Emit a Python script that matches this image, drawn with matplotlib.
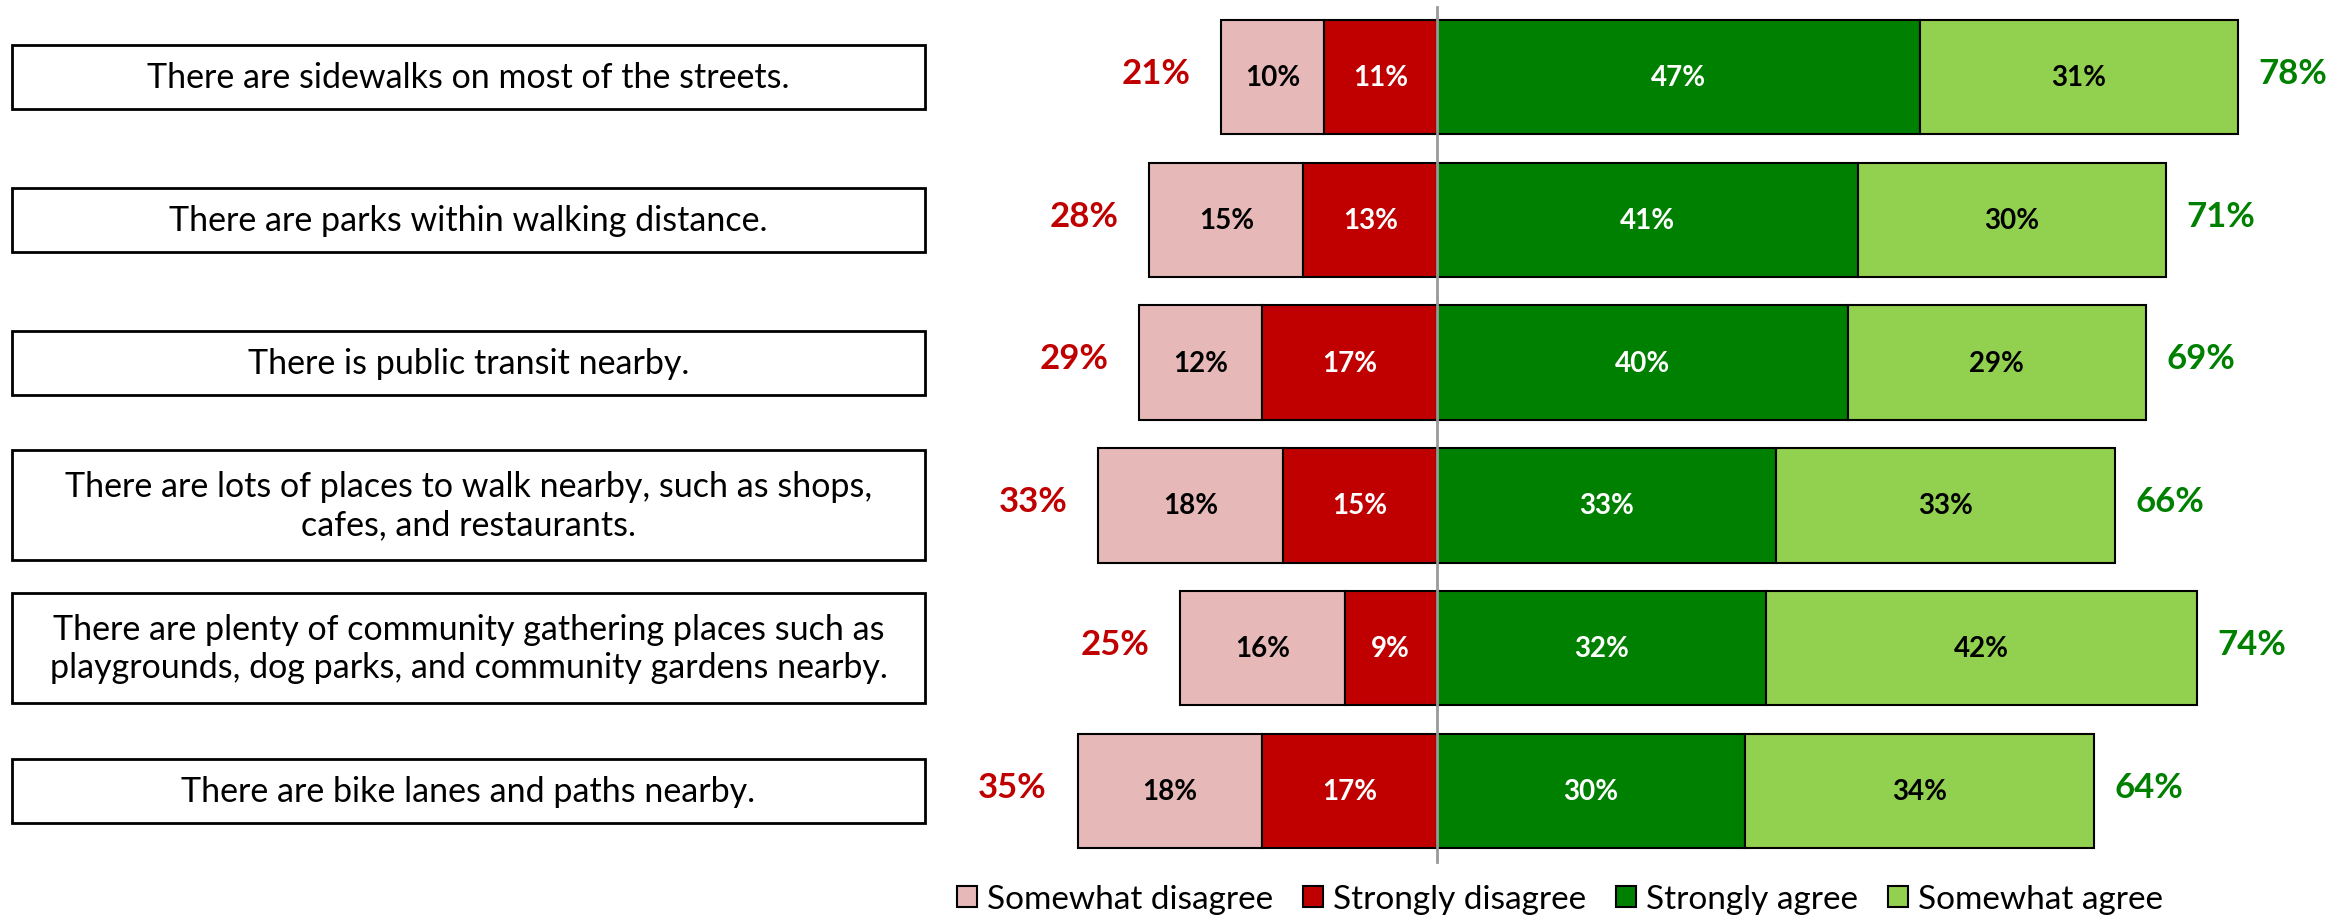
import matplotlib
matplotlib.use("Agg")
import matplotlib.pyplot as plt
from matplotlib.patches import Rectangle
from matplotlib.transforms import blended_transform_factory

plt.rcParams['font.family'] = ['Lato', 'DejaVu Sans']

# data
statements = [
    "There are sidewalks on most of the streets.",
    "There are parks within walking distance.",
    "There is public transit nearby.",
    "There are lots of places to walk nearby, such as shops,\ncafes, and restaurants.",
    "There are plenty of community gathering places such as\nplaygrounds, dog parks, and community gardens nearby.",
    "There are bike lanes and paths nearby.",
]
somewhat_disagree = [10, 15, 12, 18, 16, 18]
strongly_disagree = [11, 13, 17, 15, 9, 17]
strongly_agree = [47, 41, 40, 33, 32, 30]
somewhat_agree = [31, 30, 29, 33, 42, 34]
total_disagree = [21, 28, 29, 33, 25, 35]
total_agree = [78, 71, 69, 66, 74, 64]
series_names = ["Somewhat disagree", "Strongly disagree", "Strongly agree", "Somewhat agree"]

# colours
c_swd = "#E6B9B8"
c_sd = "#C00000"
c_sa = "#008000"
c_swa = "#92D050"

W, H = 2351, 920
fig = plt.figure(figsize=(W / 100, H / 100), dpi=100)
ax = fig.add_axes([0, 0, 1, 1])

# pixel layout -> data limits
x0_px = 1437.0      # zero line
px_per_pct = 10.27
y0_px = 78.0        # centre of first bar
px_per_row = 142.8
ax.set_xlim(-x0_px / px_per_pct, (W - x0_px) / px_per_pct)
ax.set_ylim((H - y0_px) / px_per_row, -y0_px / px_per_row)
ax.axis("off")

ys = list(range(len(statements)))
bh = 0.8
edge = dict(edgecolor="black", linewidth=1.5)

left_sd = [-v for v in strongly_disagree]
left_swd = [-(a + b) for a, b in zip(strongly_disagree, somewhat_disagree)]
b_swd = ax.barh(ys, somewhat_disagree, left=left_swd, height=bh, color=c_swd, **edge)
b_sd = ax.barh(ys, strongly_disagree, left=left_sd, height=bh, color=c_sd, **edge)
b_sa = ax.barh(ys, strongly_agree, left=0, height=bh, color=c_sa, **edge)
b_swa = ax.barh(ys, somewhat_agree, left=strongly_agree, height=bh, color=c_swa, **edge)

# centre line
ax.plot([0, 0], [-0.49, 5.5], color="#999999", lw=2, zorder=5)

lbl = dict(ha="center", va="center", fontsize=20, fontweight="bold")
for i, y in enumerate(ys):
    ax.text(left_swd[i] + somewhat_disagree[i] / 2, y, f"{somewhat_disagree[i]}%", color="black", **lbl)
    ax.text(left_sd[i] + strongly_disagree[i] / 2, y, f"{strongly_disagree[i]}%", color="white", **lbl)
    ax.text(strongly_agree[i] / 2, y, f"{strongly_agree[i]}%", color="white", **lbl)
    ax.text(strongly_agree[i] + somewhat_agree[i] / 2, y, f"{somewhat_agree[i]}%", color="black", **lbl)
    # totals
    ax.text(-total_disagree[i] - 3, y - 0.03, f"{total_disagree[i]}%", color=c_sd,
            ha="right", va="center", fontsize=25, fontweight="bold")
    ax.text(total_agree[i] + 2, y - 0.03, f"{total_agree[i]}%", color=c_sa,
            ha="left", va="center", fontsize=25, fontweight="bold")

# statement boxes on the left
tr = blended_transform_factory(fig.transFigure, ax.transData)
bx0, bx1 = 12 / W, 925 / W
for i, y in enumerate(ys):
    nlines = statements[i].count("\n") + 1
    hh = (64 if nlines == 1 else 110) / px_per_row
    ax.add_patch(Rectangle((bx0, y - hh / 2), bx1 - bx0, hh, transform=tr,
                           facecolor="white", edgecolor="black", lw=2, clip_on=False))
    ax.text((bx0 + bx1) / 2, y, statements[i], transform=tr, ha="center", va="center",
            fontsize=24.5, linespacing=1.25)

fig.legend([b_swd, b_sd, b_sa, b_swa], series_names, loc="center",
           bbox_to_anchor=(1560 / W, 1 - 900 / H), ncol=4, frameon=False,
           fontsize=24, handlelength=0.6, handleheight=0.6, handletextpad=0.3,
           columnspacing=0.9)

fig.savefig("out.png", dpi=100)
